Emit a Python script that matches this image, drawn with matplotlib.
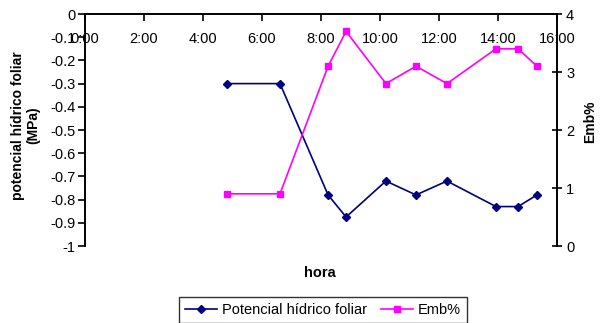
import matplotlib
matplotlib.use("Agg")
import matplotlib.pyplot as plt

plt.rcParams['font.family'] = ['Liberation Sans', 'DejaVu Sans']

hours = [4.81, 6.61, 8.24, 8.85, 10.2, 11.22, 12.27, 13.93, 14.68, 15.32]
potencial = [-0.30, -0.30, -0.78, -0.875, -0.72, -0.78, -0.72, -0.83, -0.83, -0.78]
emb = [0.9, 0.9, 3.1, 3.7, 2.8, 3.1, 2.8, 3.4, 3.4, 3.1]
xticks = [0, 2, 4, 6, 8, 10, 12, 14, 16]
xticklabels = ["0:00", "2:00", "4:00", "6:00", "8:00", "10:00", "12:00", "14:00", "16:00"]
yticks_left = [0, -0.1, -0.2, -0.3, -0.4, -0.5, -0.6, -0.7, -0.8, -0.9, -1]
yticklabels_left = ["0", "-0.1", "-0.2", "-0.3", "-0.4", "-0.5", "-0.6", "-0.7", "-0.8", "-0.9", "-1"]
yticks_right = [0, 1, 2, 3, 4]

FS = 10.5

fig = plt.figure(figsize=(6.0, 3.23), dpi=100)
ax = fig.add_axes([85/600, 1-246/323, (557-85)/600, (246-14)/323])
ax2 = ax.twinx()

l1, = ax.plot(hours, potencial, color='#000080', marker='D', markersize=4.5, lw=1.2,
              label='Potencial hídrico foliar')
l2, = ax2.plot(hours, emb, color='#FF00FF', marker='s', markersize=5, lw=1.2, label='Emb%')

ax.set_xlim(0, 16)
ax.set_ylim(-1, 0)
ax2.set_ylim(0, 4)

ax.set_xticks(xticks)
ax.set_xticklabels(xticklabels)
ax.set_yticks(yticks_left)
ax.set_yticklabels(yticklabels_left)
ax2.set_yticks(yticks_right)

for a in (ax, ax2):
    a.spines['bottom'].set_visible(False)
    for s in a.spines.values():
        s.set_linewidth(1.2)

ax.tick_params(axis='x', top=True, bottom=False, labeltop=True, labelbottom=False,
               direction='in', length=5, width=1.2, pad=-23, labelsize=FS)
ax.tick_params(axis='y', direction='out', length=5, width=1.2, labelsize=FS, pad=2)
ax2.tick_params(axis='y', direction='inout', length=7, width=1.2, labelsize=FS, pad=3)
ax2.tick_params(axis='x', top=False, labeltop=False)

ax.set_ylabel('potencial hídrico foliar\n(MPa)', fontsize=10, fontweight='bold',
              linespacing=1.1)
ax.yaxis.set_label_coords(-0.095, 0.52)
ax2.set_ylabel('Emb%', fontsize=10, fontweight='bold')
ax2.yaxis.set_label_coords(1.055, 0.535)
fig.text(320/600, 1-273/323, 'hora', ha='center', va='center', fontsize=FS, fontweight='bold')

leg = fig.legend(handles=[l1, l2], loc='upper center', bbox_to_anchor=(323/600, 1-297/323),
                 ncol=2, frameon=True, fancybox=False, edgecolor='black', fontsize=FS,
                 handlelength=2.2, columnspacing=1.0, handletextpad=0.3, borderpad=0.4,
                 borderaxespad=0)
leg.get_frame().set_linewidth(1.0)

fig.savefig('out.png', dpi=100)
